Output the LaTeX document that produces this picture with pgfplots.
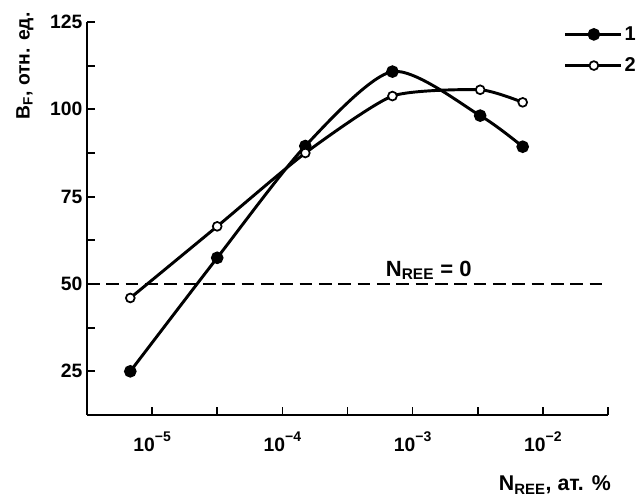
\documentclass[border=0pt]{standalone}
\usepackage{fontspec}
\setmainfont{Liberation Sans}
\usepackage{pgfplots}
\pgfplotsset{compat=1.18}
\newcommand{\tp}[1]{10\raisebox{0.5em}{\fontsize{10.5}{12}\selectfont\bfseries −#1}}
\begin{document}
\begin{tikzpicture}
\begin{axis}[
  scale only axis, width=390.75pt, height=294.75pt,
  xmode=log, xmin=3.1623e-6, xmax=3.1623e-2, ymin=12.5, ymax=125,
  axis x line=bottom, axis y line=left,
  axis line style={-, line width=1.6pt},
  tick align=inside, major tick length=6pt, minor tick length=6pt,
  every tick/.style={line width=1.3pt, black},
  xtick={1e-5,1e-4,1e-3,1e-2},
  xticklabels={\tp{5},\tp{4},\tp{3},\tp{2}},
  minor xtick={3.1623e-5,3.1623e-4,3.1623e-3,3.1623e-2},
  ytick={25,50,75,100,125}, minor ytick={37.5,62.5,87.5,112.5},
  /pgf/number format/assume math mode=true,
  tick label style={font=\fontsize{14.5}{17}\selectfont\bfseries},
  xticklabel style={yshift=-9pt},
  clip=false,
  legend style={draw=none, fill=none, at={(axis description cs:0.915,0.996)}, anchor=north west,
    font=\fontsize{15}{18}\selectfont\bfseries, row sep=7.5pt, inner sep=0pt},
  legend cell align=left,
  legend image code/.code={\draw[#1, mark repeat=2, mark phase=2] plot coordinates {(0cm,0cm) (0.75cm,0cm) (1.45cm,0cm)};},
]
\addplot[black, line width=2.2pt, smooth, tension=0.45, mark=*, mark size=3.6pt, mark options={solid, fill=black}]
  coordinates {(6.8e-6,25) (3.16e-5,57.5) (1.5e-4,89.5) (7e-4,110.8) (3.3e-3,98.2) (7e-3,89.3)};
\addlegendentry{1}
\addplot[black, line width=2.2pt, smooth, tension=0.35, mark=*, mark size=3.3pt, mark options={solid, fill=white, line width=1.3pt}]
  coordinates {(6.8e-6,46) (3.16e-5,66.5) (1.5e-4,87.5) (7e-4,103.8) (3.3e-3,105.6) (7e-3,102)};
\addlegendentry{2}
\addplot[black, line width=1.9pt, dash pattern=on 9.5pt off 5pt, forget plot]
  coordinates {(3.1623e-6,50) (3.0e-2,50)};
\node[anchor=south, font=\fontsize{16.5}{19}\selectfont\bfseries, inner sep=3pt] at (axis cs:1.33e-3,50) {N\textsubscript{REE} = 0};
\node[rotate=90, font=\fontsize{14.5}{17}\selectfont\bfseries] at (axis description cs:-0.119,0.888) {B\textsubscript{F}, отн. ед.};
\node[font=\fontsize{16}{19}\selectfont\bfseries] at (axis description cs:0.898,-0.178) {N\textsubscript{REE}, ат. \%};
\end{axis}
\pgfresetboundingbox
\path (-65.25pt,-60.75pt) rectangle (417.75pt,311.25pt);
\end{tikzpicture}
\end{document}
